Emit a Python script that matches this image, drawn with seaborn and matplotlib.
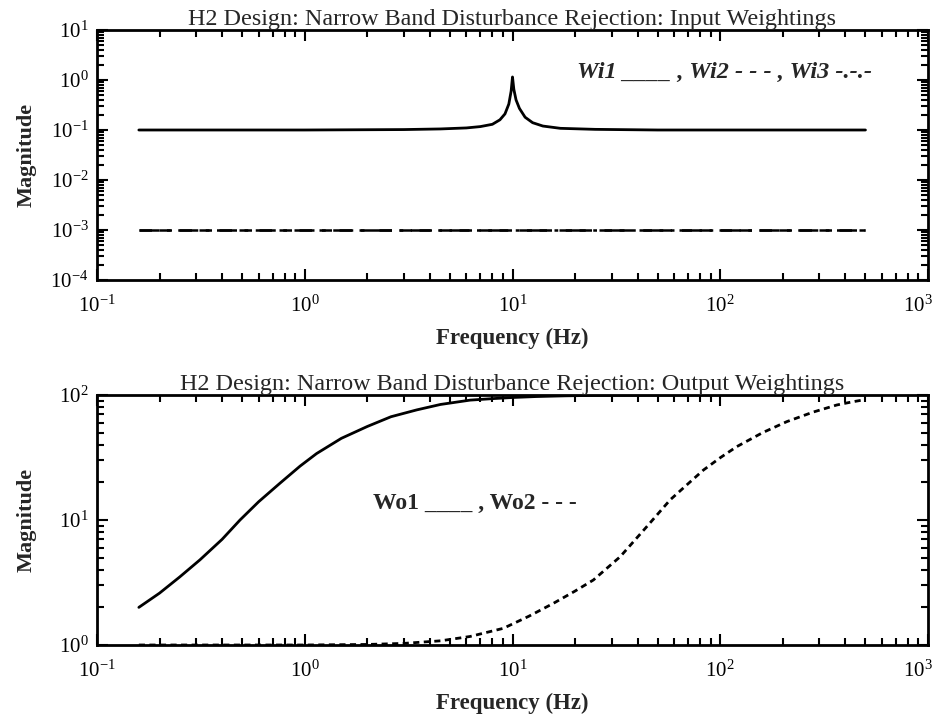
import math

import matplotlib
matplotlib.use('Agg')
import matplotlib.pyplot as plt
import matplotlib.ticker as mticker
import matplotlib.transforms as mtrans
import seaborn as sns

# values
wi1_freq = [0.159, 1, 3, 4.5, 6, 7, 8, 8.7, 9.2, 9.6, 9.85, 10.0, 10.15, 10.4, 10.8, 11.5, 12.5, 14, 17, 25, 50, 100, 500]
wi1_mag = [0.1, 0.1, 0.102, 0.105, 0.11, 0.117, 0.13, 0.16, 0.21, 0.33, 0.6, 1.15, 0.65, 0.4, 0.27, 0.18, 0.14, 0.12, 0.108, 0.103, 0.1, 0.1, 0.1]
wi2_freq = [0.159, 500]
wi2_mag = [0.001, 0.001]
wi3_freq = [0.159, 500]
wi3_mag = [0.001, 0.001]

wo1_freq = [0.159, 0.2, 0.25, 0.313, 0.4, 0.488, 0.6, 0.76, 0.95, 1.14, 1.5, 2.0, 2.6, 3.46, 4.5, 6.25, 8, 10, 13, 18, 25, 50, 100, 500]
wo1_mag = [2.0, 2.6, 3.5, 4.8, 7.0, 10, 14, 19.7, 27, 34, 45, 56, 67, 76, 84, 91, 93.5, 95.5, 97.2, 98.5, 99.3, 99.8, 100, 100]
wo2_freq = [0.159, 1, 2, 3, 4.5, 6.25, 9.04, 12, 15.7, 20, 24.5, 33, 44.3, 57.4, 70, 83, 100, 120, 160, 209, 280, 364, 430, 500]
wo2_mag = [1.0, 1.0, 1.01, 1.03, 1.08, 1.17, 1.36, 1.7, 2.15, 2.7, 3.31, 5.09, 8.85, 14.5, 19.5, 25.1, 31.5, 38.6, 50, 61.2, 73, 83.2, 88, 92]

sns.set_style('ticks')
plt.rcParams['font.family'] = ['Liberation Serif', 'DejaVu Serif']
plt.rcParams['mathtext.default'] = 'regular'

fig = plt.figure(figsize=(9.4, 7.16), dpi=100)
ax1 = fig.add_axes([97 / 940, 1 - 280 / 716, 831 / 940, 250 / 716])
ax2 = fig.add_axes([97 / 940, 1 - 645 / 716, 831 / 940, 250 / 716])


def log_fmt(v, pos):
    e = int(round(math.log10(v)))
    return '10$^{%d}$' % e


def style_axes(ax, ylo, yhi):
    ax.set_xscale('log')
    ax.set_yscale('log')
    ax.set_xlim(0.1, 1000)
    ax.set_ylim(ylo, yhi)
    for s in ax.spines.values():
        s.set_linewidth(2)
        s.set_color('black')
    ax.xaxis.set_major_locator(mticker.LogLocator(base=10))
    ax.xaxis.set_minor_locator(mticker.LogLocator(base=10, subs=range(2, 10)))
    ax.yaxis.set_major_locator(mticker.LogLocator(base=10))
    ax.yaxis.set_minor_locator(mticker.LogLocator(base=10, subs=range(2, 10)))
    ax.xaxis.set_major_formatter(mticker.FuncFormatter(log_fmt))
    ax.yaxis.set_major_formatter(mticker.FuncFormatter(log_fmt))
    ax.xaxis.set_minor_formatter(mticker.NullFormatter())
    ax.yaxis.set_minor_formatter(mticker.NullFormatter())
    ax.tick_params(which='both', top=True, right=True, direction='in', colors='black',
                   labelsize=15, width=1.5)
    ax.tick_params(which='major', length=8)
    ax.tick_params(which='minor', length=5)
    ax.tick_params(axis='x', which='major', pad=11)
    ax.tick_params(axis='y', which='major', pad=6)
    ax.set_xlabel('Frequency (Hz)', fontsize=16.5, fontweight='bold', labelpad=8)
    ax.set_ylabel('Magnitude', fontsize=16, fontweight='bold')
    ax.yaxis.set_label_coords(-0.073, 0.5)


def nudge_last_label(ax):
    # the 10^3 label sits a little inside the figure edge, as in the reference
    fig.canvas.draw()
    for lab in ax.get_xticklabels():
        if abs(lab.get_position()[0] - 1000) < 1e-6:
            lab.set_transform(lab.get_transform() + mtrans.ScaledTranslation(-10 / 100, 0, fig.dpi_scale_trans))


# top: input weightings
sns.lineplot(x=wi1_freq, y=wi1_mag, ax=ax1, color='black', linewidth=2)
sns.lineplot(x=wi2_freq, y=wi2_mag, ax=ax1, color='black', linewidth=1.8, linestyle=(0, (5, 3)))
sns.lineplot(x=wi3_freq, y=wi3_mag, ax=ax1, color='black', linewidth=1.8, linestyle=(0, (8, 3, 1.5, 3)))
style_axes(ax1, 1e-4, 1e1)
ax1.set_title('H2 Design: Narrow Band Disturbance Rejection: Input Weightings', fontsize=17.4, pad=0)
ax1.text(577, 716 - 72, 'Wi1 ____ , Wi2 - - - , Wi3 -.-.-', transform=None, fontsize=17.5, fontweight='bold',
         fontstyle='italic', va='center', ha='left')

# bottom: output weightings
sns.lineplot(x=wo1_freq, y=wo1_mag, ax=ax2, color='black', linewidth=2)
sns.lineplot(x=wo2_freq, y=wo2_mag, ax=ax2, color='black', linewidth=2, linestyle=(0, (2.2, 1.6)))
style_axes(ax2, 1, 100)
ax2.set_title('H2 Design: Narrow Band Disturbance Rejection: Output Weightings', fontsize=17.4, pad=0)
ax2.text(373, 716 - 503, 'Wo1 ____ , Wo2 - - -', transform=None, fontsize=17, fontweight='bold',
         va='center', ha='left')

nudge_last_label(ax1)
nudge_last_label(ax2)

fig.savefig('out.png', dpi=100, facecolor='white')
